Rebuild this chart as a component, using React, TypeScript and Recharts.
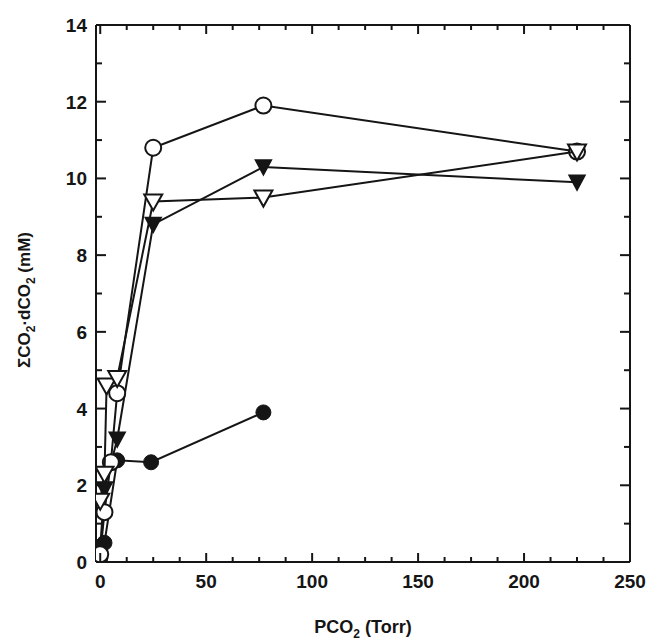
import React from 'react';
import { ScatterChart, Scatter, XAxis, YAxis, Label } from 'recharts';

// PCO2 (Torr) and sum CO2 - dCO2 (mM)
const openTriX = [0, 2, 3, 8, 25, 77, 225];
const openTriY = [1.6, 2.3, 4.6, 4.8, 9.4, 9.5, 10.7];

const fillTriX = [0, 2, 8, 25, 77, 225];
const fillTriY = [0.4, 1.9, 3.2, 8.8, 10.3, 9.9];

const openCircX = [0, 2, 5, 8, 25, 77, 225];
const openCircY = [0.2, 1.3, 2.6, 4.4, 10.8, 11.9, 10.7];

const fillCircX = [0, 2, 8, 24, 77];
const fillCircY = [0.1, 0.5, 2.65, 2.6, 3.9];

const xMajor = [0, 50, 100, 150, 200, 250];
const xTicks = [0, 12.5, 25, 37.5, 50, 62.5, 75, 87.5, 100, 112.5, 125, 137.5, 150, 162.5, 175, 187.5, 200, 212.5, 225, 237.5, 250];
const yTicks = [0, 1, 2, 3, 4, 5, 6, 7, 8, 9, 10, 11, 12, 13, 14];

const toPoints = (xs: number[], ys: number[]) => xs.map((x, i) => ({ x, y: ys[i] }));

const INK = '#151515';
const FONT = '"Liberation Sans", Arial, sans-serif';

const LeftTick = (props: any) => {
  const { x, y, payload } = props;
  const major = payload.value % 2 === 0;
  return (
    <g>
      <line x1={x} x2={x + (major ? 10 : 6)} y1={y} y2={y} stroke={INK} strokeWidth={2} />
      {major && (
        <text x={x - 9} y={y + 7} textAnchor="end" fontSize={19} fontWeight="bold" fontFamily={FONT} fill={INK}>
          {payload.value}
        </text>
      )}
    </g>
  );
};

const RightTick = (props: any) => {
  const { x, y, payload } = props;
  const major = payload.value % 2 === 0;
  return <line x1={x} x2={x - (major ? 10 : 6)} y1={y} y2={y} stroke={INK} strokeWidth={2} />;
};

const BottomTick = (props: any) => {
  const { x, y, payload } = props;
  const major = xMajor.includes(payload.value);
  return (
    <g>
      <line x1={x} x2={x} y1={y} y2={y - (major ? 9 : 5)} stroke={INK} strokeWidth={2} />
      {major && (
        <text x={x} y={y + 26} textAnchor="middle" fontSize={19} fontWeight="bold" fontFamily={FONT} fill={INK}>
          {payload.value}
        </text>
      )}
    </g>
  );
};

const TopTick = (props: any) => {
  const { x, y, payload } = props;
  const major = xMajor.includes(payload.value);
  return <line x1={x} x2={x} y1={y} y2={y + (major ? 9 : 5)} stroke={INK} strokeWidth={2} />;
};

const OpenTriangle = (props: any) => {
  const { cx, cy } = props;
  return <polygon points={`${cx - 9},${cy - 7} ${cx + 9},${cy - 7} ${cx},${cy + 9}`} fill="#fff" stroke={INK} strokeWidth={2} />;
};

const FilledTriangle = (props: any) => {
  const { cx, cy } = props;
  return <polygon points={`${cx - 8},${cy - 7} ${cx + 8},${cy - 7} ${cx},${cy + 8}`} fill={INK} stroke={INK} strokeWidth={1.5} />;
};

const OpenCircle = (props: any) => {
  const { cx, cy } = props;
  return <circle cx={cx} cy={cy} r={8} fill="#fff" stroke={INK} strokeWidth={2} />;
};

const FilledCircle = (props: any) => {
  const { cx, cy } = props;
  return <circle cx={cx} cy={cy} r={7.5} fill={INK} stroke={INK} strokeWidth={1} />;
};

const YTitle = () => {
  const cx = 30;
  const cy = 300;
  return (
    <text
      x={cx}
      y={cy}
      transform={`rotate(-90 ${cx} ${cy})`}
      textAnchor="middle"
      fontSize={17}
      fontWeight="bold"
      fontFamily={FONT}
      fill={INK}
    >
      ΣCO<tspan fontSize={12} dy={5}>2</tspan>
      <tspan dy={-5}>·dCO</tspan>
      <tspan fontSize={12} dy={5}>2</tspan>
      <tspan dy={-5}>{'  (mM)'}</tspan>
    </text>
  );
};

const XTitle = () => (
  <text x={363} y={633} textAnchor="middle" fontSize={18} fontWeight="bold" fontFamily={FONT} fill={INK}>
    PCO<tspan fontSize={12} dy={5}>2</tspan>
    <tspan dy={-5}> (Torr)</tspan>
  </text>
);

const lineStyle = { stroke: INK, strokeWidth: 2 };

export default function App() {
  return (
    <div style={{ position: 'absolute', left: 0, top: 0, background: '#fff' }}>
      <ScatterChart width={651} height={640} margin={{ top: 24, right: 20, bottom: 0, left: 10 }}>
        <XAxis
          xAxisId="b"
          type="number"
          dataKey="x"
          domain={[-2, 250]}
          ticks={xTicks}
          interval={0}
          tick={<BottomTick />}
          tickLine={false}
          tickSize={0}
          tickMargin={0}
          height={78}
          axisLine={{ stroke: INK, strokeWidth: 2 }}
          allowDataOverflow
        >
          <Label content={<XTitle />} />
        </XAxis>
        <XAxis
          xAxisId="t"
          orientation="top"
          type="number"
          dataKey="x"
          domain={[-2, 250]}
          ticks={xTicks}
          interval={0}
          tick={<TopTick />}
          tickLine={false}
          tickSize={0}
          tickMargin={0}
          height={1}
          axisLine={{ stroke: INK, strokeWidth: 2 }}
          allowDataOverflow
        />
        <YAxis
          yAxisId="l"
          type="number"
          dataKey="y"
          domain={[0, 14]}
          ticks={yTicks}
          interval={0}
          tick={<LeftTick />}
          tickLine={false}
          tickSize={0}
          tickMargin={0}
          width={86}
          axisLine={{ stroke: INK, strokeWidth: 2 }}
          allowDataOverflow
        >
          <Label content={<YTitle />} />
        </YAxis>
        <YAxis
          yAxisId="r"
          orientation="right"
          type="number"
          dataKey="y"
          domain={[0, 14]}
          ticks={yTicks}
          interval={0}
          tick={<RightTick />}
          tickLine={false}
          tickSize={0}
          tickMargin={0}
          width={1}
          axisLine={{ stroke: INK, strokeWidth: 2 }}
          allowDataOverflow
        />
        <Scatter
          xAxisId="b"
          yAxisId="l"
          data={toPoints(fillCircX, fillCircY)}
          line={lineStyle}
          shape={<FilledCircle />}
          isAnimationActive={false}
        />
        <Scatter
          xAxisId="b"
          yAxisId="l"
          data={toPoints(fillTriX, fillTriY)}
          line={lineStyle}
          shape={<FilledTriangle />}
          isAnimationActive={false}
        />
        <Scatter
          xAxisId="b"
          yAxisId="l"
          data={toPoints(openCircX, openCircY)}
          line={lineStyle}
          shape={<OpenCircle />}
          isAnimationActive={false}
        />
        <Scatter
          xAxisId="b"
          yAxisId="l"
          data={toPoints(openTriX, openTriY)}
          line={lineStyle}
          shape={<OpenTriangle />}
          isAnimationActive={false}
        />
      </ScatterChart>
    </div>
  );
}
